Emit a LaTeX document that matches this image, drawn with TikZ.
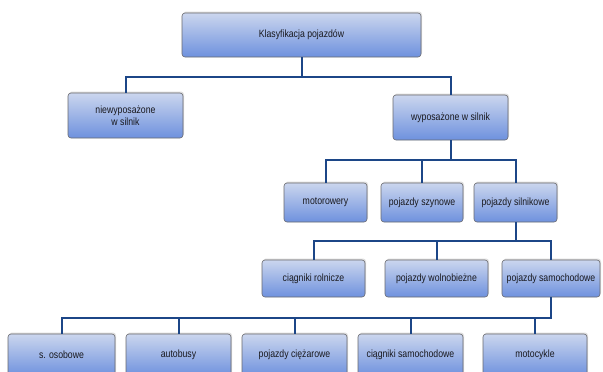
\documentclass[tikz,border=0pt]{standalone}
\usepackage{fontspec}
\setmainfont{Liberation Sans}[FakeStretch=0.83]
\usetikzlibrary{shadows}
\definecolor{boxtop}{RGB}{203,214,238}
\definecolor{boxbot}{RGB}{110,145,222}
\definecolor{boxedge}{RGB}{105,105,110}
\definecolor{linkblue}{RGB}{28,70,135}
\definecolor{txt}{RGB}{25,25,30}
\tikzset{
  box/.style={draw=boxedge, line width=0.6pt, rounded corners=3pt,
    top color=boxtop, bottom color=boxbot, text=txt,
    font=\fontsize{10.5}{12}\selectfont, align=center, inner sep=0pt,
    drop shadow={opacity=0.25, shadow xshift=1pt, shadow yshift=1.5pt}},
  link/.style={draw=linkblue, line width=2pt}
}
\begin{document}
\begin{tikzpicture}[x=1pt,y=-1pt]
\useasboundingbox (0,0) rectangle (603,372);
\clip (0,0) rectangle (603,372);
\fill[white] (0,0) rectangle (603,372);
% level 1
\node[box, minimum width=239pt, minimum height=44pt] (top) at (301.5,35) {Klasyfikacja pojazdów};
% level 2
\node[box, minimum width=115pt, minimum height=45pt] (niew) at (125.5,115.5) {niewyposażone\\w silnik};
\node[box, minimum width=115pt, minimum height=45pt] (wyp) at (450.5,117.5) {wyposażone w silnik};
% level 3
\node[box, minimum width=83pt, minimum height=39pt] (moto) at (325.5,202.5) {motorowery};
\node[box, minimum width=82pt, minimum height=39pt] (szyn) at (422,202.5) {pojazdy szynowe};
\node[box, minimum width=83pt, minimum height=39pt] (siln) at (515.5,202.5) {pojazdy silnikowe};
% level 4
\node[box, minimum width=103pt, minimum height=37pt] (roln) at (313.5,278.5) {ciągniki rolnicze};
\node[box, minimum width=103pt, minimum height=37pt] (woln) at (436.5,278.5) {pojazdy wolnobieżne};
\node[box, minimum width=98pt, minimum height=37pt] (samo) at (551,278.5) {pojazdy samochodowe};
% level 5
\node[box, minimum width=107pt, minimum height=42pt] (osob) at (61.5,355) {s. osobowe};
\node[box, minimum width=105pt, minimum height=42pt] (auto) at (178.5,355) {autobusy};
\node[box, minimum width=105pt, minimum height=42pt] (ciez) at (294.5,355) {pojazdy ciężarowe};
\node[box, minimum width=105pt, minimum height=42pt] (csam) at (410.5,355) {ciągniki samochodowe};
\node[box, minimum width=104pt, minimum height=42pt] (moc) at (535,355) {motocykle};
% connectors
\foreach \c in {niew,wyp} \draw[link] (top.south) -- ++(0,20) -| (\c.north);
\foreach \c in {moto,szyn,siln} \draw[link] (wyp.south) -- ++(0,20) -| (\c.north);
\foreach \c in {roln,woln,samo} \draw[link] (siln.south) -- ++(0,19) -| (\c.north);
\foreach \c in {osob,auto,ciez,csam,moc} \draw[link] (samo.south) -- ++(0,21) -| (\c.north);
\end{tikzpicture}
\end{document}
